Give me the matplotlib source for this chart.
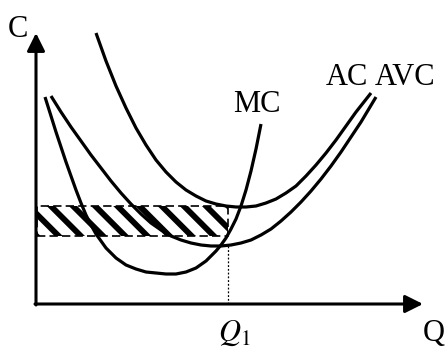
import matplotlib
matplotlib.use("Agg")
import matplotlib.pyplot as plt
from matplotlib.patches import Rectangle

DPI = 133
S = 100 / DPI  # keep sizes as they look at 100 dpi; the higher dpi only widens the hatch

plt.rcParams['font.family'] = ['Liberation Serif', 'DejaVu Serif']
plt.rcParams['mathtext.fontset'] = 'stix'
plt.rcParams['hatch.linewidth'] = 4.2 * S

# curves (Q right, C up; origin where the axes meet)
mc_q = [9, 15, 20, 25, 30, 35, 40, 45, 50, 55, 60, 70, 80, 90, 100, 110, 120, 130,
        140, 150, 160, 170, 180, 185, 190, 195, 200, 205, 210, 215, 220, 225]
mc_c = [207, 188, 172, 157, 142, 128, 114, 101, 89, 79, 70, 56, 46, 39, 35, 32, 31, 30,
        30, 32, 36, 43, 53, 59, 66, 75, 85, 98, 114, 133, 155, 180]

avc_q = [15, 25, 35, 45, 55, 65, 75, 85, 95, 105, 115, 125, 135, 145, 155, 165, 175,
         185, 195, 205, 215, 225, 235, 245, 255, 265, 275, 285, 295, 305, 315, 325, 340]
avc_c = [208, 192, 177, 163, 149, 136, 123, 111, 100, 90, 81, 74, 68, 64, 61, 59, 58,
         58, 59, 61, 64, 69, 75, 83, 92, 102, 113, 125, 138, 152, 167, 182, 207]

ac_q = [60, 70, 80, 90, 100, 110, 120, 130, 140, 150, 160, 170, 180, 190, 200, 210,
        220, 230, 240, 250, 260, 270, 280, 290, 300, 310, 320, 335]
ac_c = [271, 243, 218, 196, 176, 159, 144, 132, 122, 114, 108, 103, 100, 98, 97, 97,
        98, 101, 105, 111, 118, 128, 139, 151, 164, 178, 192, 211]

band_q = [1, 192]
band_c = [68, 98]
q1 = 192
q1_c = 59

fig = plt.figure(figsize=(448 / DPI, 347 / DPI), dpi=DPI)
ax = fig.add_axes([0, 0, 1, 1])
ax.set_xlim(-36, 412)
ax.set_ylim(-43, 304)
ax.axis('off')

# shaded band
w = band_q[1] - band_q[0]
h = band_c[1] - band_c[0]
ax.add_patch(Rectangle((band_q[0], band_c[0]), w, h,
                       facecolor='white', edgecolor='black', hatch='\\\\', lw=0))
ax.add_patch(Rectangle((band_q[0], band_c[0]), w, h, facecolor='none',
                       edgecolor='black', lw=1.2 * S, ls=(0, (5, 2.5))))
ax.plot([q1, q1], [0, q1_c], color='black', lw=0.9 * S, ls=(0, (1.5, 1.5)))

for q, c in [(mc_q, mc_c), (avc_q, avc_c), (ac_q, ac_c)]:
    ax.plot(q, c, color='black', lw=2.3 * S, solid_capstyle='butt',
            solid_joinstyle='round')

# axes with arrows
arrow = dict(arrowstyle='-|>', mutation_scale=27 * S, lw=2.2 * S, color='black',
             shrinkA=0, shrinkB=0)
ax.annotate('', xy=(0, 271), xytext=(0, -1), arrowprops=arrow)
ax.annotate('', xy=(387, 0), xytext=(-1, 0), arrowprops=arrow)

fs = 22 * S
ax.text(-28, 267, 'C', fontsize=fs, ha='left', va='baseline')
ax.text(197, 192, 'MC', fontsize=fs, ha='left', va='baseline')
ax.text(290, 219, 'AC', fontsize=fs, ha='left', va='baseline')
ax.text(339, 219, 'AVC', fontsize=fs, ha='left', va='baseline')
ax.text(387, -37, 'Q', fontsize=fs, ha='left', va='baseline')
ax.text(182, -37, r'$Q_1$', fontsize=fs, ha='left', va='baseline')

fig.savefig('out.png', dpi=DPI)
